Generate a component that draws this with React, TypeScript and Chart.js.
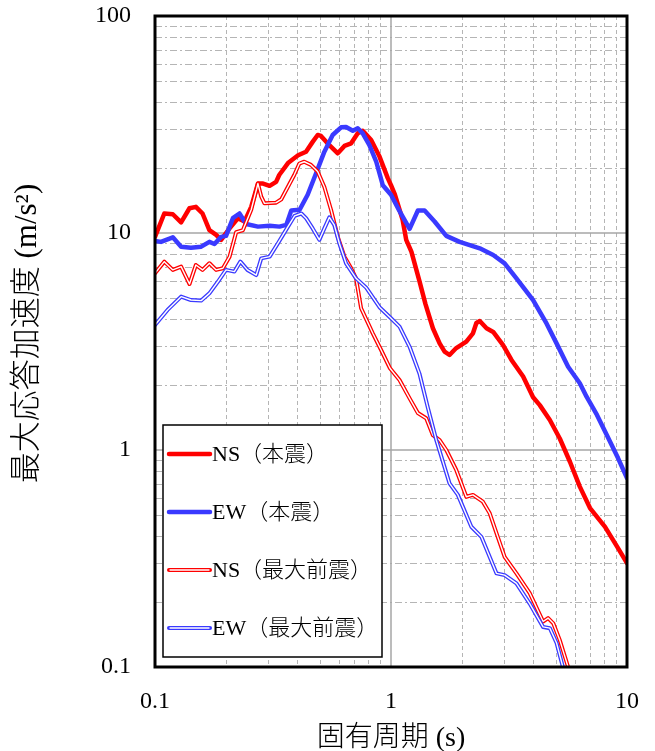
import React, { useEffect, useRef } from "react";
import { Chart, registerables } from "chart.js";

Chart.register(...registerables);

// ---- data (period in s, max response acceleration in m/s²) ----
const nsMainPeriod = [0.1, 0.1095, 0.119, 0.129, 0.14, 0.149, 0.159, 0.17, 0.1816, 0.1906, 0.207, 0.2245, 0.2395, 0.2557, 0.273, 0.287, 0.306, 0.326, 0.336, 0.366, 0.404, 0.4365, 0.4656, 0.489, 0.505, 0.548, 0.595, 0.635, 0.678, 0.723, 0.759, 0.824, 0.894, 0.969, 1.0, 1.035, 1.087, 1.12, 1.16, 1.22, 1.32, 1.4, 1.505, 1.607, 1.687, 1.77, 1.89, 2.085, 2.225, 2.3, 2.377, 2.54, 2.71, 2.98, 3.24, 3.63, 4.0, 4.27, 4.71, 5.19, 5.73, 6.31, 6.97, 8.07, 9.16, 10];
const nsMainAccel = [9.6, 12.3, 12.2, 11.2, 13.0, 13.2, 12.3, 10.3, 9.8, 9.3, 10.5, 11.7, 11.3, 13.2, 16.9, 16.9, 16.5, 17.2, 18.5, 21.0, 22.8, 23.7, 26.3, 28.3, 28.0, 25.4, 23.3, 25.2, 25.9, 28.8, 29.6, 26.8, 22.5, 17.9, 16.6, 15.2, 12.8, 11.5, 9.3, 8.2, 6.0, 4.7, 3.64, 3.1, 2.84, 2.74, 2.95, 3.16, 3.45, 3.85, 3.93, 3.64, 3.5, 3.05, 2.6, 2.18, 1.75, 1.61, 1.375, 1.13, 0.883, 0.678, 0.54, 0.442, 0.353, 0.301];

const ewMainPeriod = [0.1, 0.106, 0.119, 0.129, 0.142, 0.157, 0.17, 0.1786, 0.1906, 0.2, 0.2138, 0.228, 0.2434, 0.273, 0.306, 0.337, 0.36, 0.378, 0.41, 0.4435, 0.481, 0.522, 0.566, 0.6145, 0.645, 0.689, 0.723, 0.759, 0.81, 0.866, 0.923, 1.0, 1.087, 1.199, 1.3, 1.388, 1.53, 1.715, 1.954, 2.377, 2.71, 3.03, 3.4, 4.0, 4.56, 5.03, 5.63, 6.31, 6.74, 7.46, 8.22, 9.16, 10];
const ewMainAccel = [9.2, 9.1, 9.55, 8.65, 8.55, 8.65, 9.1, 8.9, 9.6, 9.7, 11.7, 12.3, 11.0, 10.7, 10.8, 10.7, 10.9, 12.7, 12.8, 15.0, 18.8, 23.7, 28.3, 30.7, 30.8, 29.6, 30.4, 28.8, 25.4, 21.3, 16.6, 15.0, 12.6, 10.45, 12.7, 12.7, 11.3, 9.7, 9.1, 8.5, 7.92, 7.25, 6.18, 4.91, 3.83, 3.1, 2.42, 2.03, 1.76, 1.45, 1.17, 0.918, 0.743];

const nsForePeriod = [0.1, 0.1095, 0.119, 0.129, 0.14, 0.149, 0.159, 0.17, 0.1816, 0.194, 0.207, 0.2208, 0.2356, 0.2557, 0.273, 0.282, 0.291, 0.326, 0.343, 0.372, 0.389, 0.409, 0.429, 0.458, 0.489, 0.522, 0.557, 0.595, 0.635, 0.678, 0.711, 0.747, 0.837, 0.908, 0.99, 1.087, 1.199, 1.3, 1.41, 1.505, 1.607, 1.715, 1.89, 2.085, 2.225, 2.45, 2.62, 2.8, 3.03, 3.4, 3.87, 4.41, 4.63, 4.87, 5.19, 5.63, 5.9];
const nsForeAccel = [6.52, 7.38, 6.76, 7.0, 5.82, 7.12, 6.76, 7.25, 6.76, 6.88, 7.78, 10.1, 10.3, 12.8, 16.9, 14.7, 13.7, 13.8, 14.3, 16.9, 18.5, 20.9, 21.3, 20.6, 19.2, 16.3, 12.8, 9.6, 7.78, 6.88, 6.18, 4.5, 3.45, 2.89, 2.38, 2.1, 1.73, 1.48, 1.4, 1.17, 1.11, 1.0, 0.809, 0.609, 0.621, 0.578, 0.511, 0.413, 0.322, 0.27, 0.219, 0.162, 0.168, 0.159, 0.133, 0.1, 0.088];

const ewForePeriod = [0.1, 0.113, 0.129, 0.142, 0.157, 0.17, 0.1846, 0.2, 0.217, 0.23, 0.2465, 0.2685, 0.282, 0.306, 0.332, 0.366, 0.3905, 0.417, 0.4365, 0.4656, 0.497, 0.522, 0.548, 0.575, 0.604, 0.645, 0.711, 0.785, 0.894, 1.0, 1.087, 1.199, 1.32, 1.43, 1.556, 1.77, 1.92, 2.19, 2.415, 2.8, 3.03, 3.4, 3.87, 4.41, 4.71, 5.03, 5.35, 5.6];
const ewForeAccel = [3.77, 4.42, 5.09, 4.91, 4.88, 5.27, 5.96, 6.76, 6.64, 7.38, 6.76, 6.4, 7.64, 7.78, 8.97, 10.7, 12.0, 12.3, 11.7, 10.5, 9.3, 10.5, 11.8, 10.9, 8.97, 7.25, 6.18, 5.6, 4.55, 4.05, 3.7, 2.99, 2.25, 1.58, 1.11, 0.702, 0.621, 0.443, 0.398, 0.27, 0.265, 0.243, 0.196, 0.153, 0.151, 0.129, 0.1, 0.088];

const xTickValues = [0.1, 1, 10];
const xTickLabels = ["0.1", "1", "10"];
const yTickValues = [0.1, 1, 10, 100];
const yTickLabels = ["0.1", "1", "10", "100"];
const seriesNames = ["NS（本震）", "EW（本震）", "NS（最大前震）", "EW（最大前震）"];
const xTitle = "固有周期 (s)";
const yTitle = "最大応答加速度 (m/s²)";

// ---- styles ----
const RED = "#FF0000";
const BLUE = "#3a3aff";
const FONT = "'Liberation Serif', 'Times New Roman', 'Noto Sans CJK JP', serif";

const pts = (xs: number[], ys: number[]) => xs.map((x, i) => ({ x, y: ys[i] }));

const labelFor = (vals: number[], labels: string[]) => (v: any) => {
  const n = Number(v);
  const i = vals.findIndex((t) => Math.abs(t - n) < t * 1e-6);
  return i >= 0 ? labels[i] : "";
};

const gridPlugin = {
  id: "customGrid",
  beforeDatasetsDraw(chart: any) {
    const { ctx, chartArea, scales } = chart;
    const { left, right, top, bottom } = chartArea;
    const x = scales.x;
    const y = scales.y;
    ctx.save();
    ctx.lineWidth = 1;
    ctx.strokeStyle = "#b5b5b5";
    // minor vertical (dashed)
    ctx.setLineDash([4, 3]);
    for (let d = -1; d <= 0; d++) {
      for (let m = 2; m <= 9; m++) {
        const px = Math.round(x.getPixelForValue(m * Math.pow(10, d))) + 0.5;
        ctx.beginPath();
        ctx.moveTo(px, top);
        ctx.lineTo(px, bottom);
        ctx.stroke();
      }
    }
    // minor horizontal (dash-dot)
    ctx.setLineDash([7, 3, 2, 3]);
    for (let d = -1; d <= 1; d++) {
      for (let m = 2; m <= 9; m++) {
        const py = Math.round(y.getPixelForValue(m * Math.pow(10, d))) + 0.5;
        ctx.beginPath();
        ctx.moveTo(left, py);
        ctx.lineTo(right, py);
        ctx.stroke();
      }
    }
    // major
    ctx.setLineDash([]);
    ctx.strokeStyle = "#a6a6a6";
    ctx.lineWidth = 1.5;
    [1].forEach((v) => {
      const px = x.getPixelForValue(v);
      ctx.beginPath();
      ctx.moveTo(px, top);
      ctx.lineTo(px, bottom);
      ctx.stroke();
    });
    [1, 10].forEach((v) => {
      const py = y.getPixelForValue(v);
      ctx.beginPath();
      ctx.moveTo(left, py);
      ctx.lineTo(right, py);
      ctx.stroke();
    });
    ctx.restore();
  },
  afterDatasetsDraw(chart: any) {
    const { ctx, chartArea } = chart;
    const { left, right, top, bottom } = chartArea;
    ctx.save();
    ctx.strokeStyle = "#000";
    ctx.lineWidth = 3;
    ctx.strokeRect(left, top, right - left, bottom - top);

    // legend box
    const bx = left + 8;
    const by = top + 409;
    const bw = 219;
    const bh = 232;
    ctx.fillStyle = "#fff";
    ctx.fillRect(bx, by, bw, bh);
    ctx.lineWidth = 1.5;
    ctx.strokeRect(bx, by, bw, bh);
    const rows = [29, 87, 145, 203];
    const styles = [
      { color: RED, double: false },
      { color: BLUE, double: false },
      { color: RED, double: true },
      { color: BLUE, double: true },
    ];
    ctx.font = `300 22px ${FONT}`;
    ctx.textBaseline = "middle";
    ctx.textAlign = "left";
    rows.forEach((ry, i) => {
      const yy = by + ry;
      const st = styles[i];
      ctx.beginPath();
      ctx.moveTo(bx + 6, yy);
      ctx.lineTo(bx + 47, yy);
      ctx.strokeStyle = st.color;
      ctx.lineWidth = st.double ? 4 : 4.5;
      ctx.lineCap = "round";
      ctx.stroke();
      if (st.double) {
        ctx.beginPath();
        ctx.moveTo(bx + 7, yy);
        ctx.lineTo(bx + 46, yy);
        ctx.strokeStyle = "#fff";
        ctx.lineWidth = 1.4;
        ctx.stroke();
      }
      ctx.fillStyle = "#000";
      ctx.fillText(seriesNames[i], bx + 49, yy + 1);
    });
    ctx.restore();
  },
  afterDraw(chart: any) {
    const { ctx, chartArea } = chart;
    const { left, right, top, bottom } = chartArea;
    ctx.save();
    ctx.fillStyle = "#000";
    ctx.textAlign = "center";
    ctx.textBaseline = "middle";
    ctx.font = `300 28px ${FONT}`;
    ctx.fillText(xTitle, (left + right) / 2, bottom + 72);
    ctx.font = `300 31px ${FONT}`;
    ctx.translate(28, (top + bottom) / 2 - 8);
    ctx.rotate(-Math.PI / 2);
    ctx.fillText(yTitle, 0, 0);
    ctx.restore();
  },
};

export default function App() {
  const ref = useRef<HTMLCanvasElement | null>(null);

  useEffect(() => {
    if (!ref.current) return;
    const lineBase = {
      pointRadius: 0,
      pointHoverRadius: 0,
      tension: 0,
      fill: false,
      borderJoinStyle: "round" as const,
      borderCapStyle: "round" as const,
    };
    const chart = new Chart(ref.current, {
      type: "line",
      data: {
        datasets: [
          { ...lineBase, label: seriesNames[0], data: pts(nsMainPeriod, nsMainAccel), borderColor: RED, borderWidth: 4.5, order: 6 },
          { ...lineBase, label: seriesNames[1], data: pts(ewMainPeriod, ewMainAccel), borderColor: BLUE, borderWidth: 4.5, order: 5 },
          { ...lineBase, label: seriesNames[2], data: pts(nsForePeriod, nsForeAccel), borderColor: RED, borderWidth: 4, order: 4 },
          { ...lineBase, label: seriesNames[2] + "_in", data: pts(nsForePeriod, nsForeAccel), borderColor: "#ffffff", borderWidth: 1.4, order: 3 },
          { ...lineBase, label: seriesNames[3], data: pts(ewForePeriod, ewForeAccel), borderColor: BLUE, borderWidth: 4, order: 2 },
          { ...lineBase, label: seriesNames[3] + "_in", data: pts(ewForePeriod, ewForeAccel), borderColor: "#ffffff", borderWidth: 1.4, order: 1 },
        ],
      },
      options: {
        animation: false,
        responsive: false,
        devicePixelRatio: 1,
        layout: { padding: { top: 16, right: 28, left: 0, bottom: 0 } },
        plugins: {
          legend: { display: false },
          tooltip: { enabled: false },
          title: { display: false },
        },
        events: [],
        scales: {
          x: {
            type: "logarithmic",
            min: 0.1,
            max: 10,
            afterBuildTicks: (s: any) => {
              s.ticks = xTickValues.map((v) => ({ value: v }));
            },
            afterFit: (s: any) => {
              s.height = 84;
            },
            ticks: {
              callback: labelFor(xTickValues, xTickLabels),
              font: { family: FONT, size: 24 },
              color: "#000",
              padding: 2,
              maxRotation: 0,
              autoSkip: false,
            },
            grid: { display: false, drawTicks: true, tickLength: 18 },
            border: { display: false },
          },
          y: {
            type: "logarithmic",
            min: 0.1,
            max: 100,
            afterBuildTicks: (s: any) => {
              s.ticks = yTickValues.map((v) => ({ value: v }));
            },
            afterFit: (s: any) => {
              s.width = 155;
            },
            ticks: {
              callback: labelFor(yTickValues, yTickLabels),
              font: { family: FONT, size: 24 },
              color: "#000",
              padding: 1,
              autoSkip: false,
            },
            grid: { display: false, drawTicks: true, tickLength: 23 },
            border: { display: false },
          },
        },
      },
      plugins: [gridPlugin],
    } as any);
    return () => chart.destroy();
  }, []);

  return (
    <div style={{ position: "absolute", left: 0, top: 0, width: 655, height: 751, background: "#fff" }}>
      <canvas ref={ref} width={655} height={751} style={{ display: "block" }} />
    </div>
  );
}
